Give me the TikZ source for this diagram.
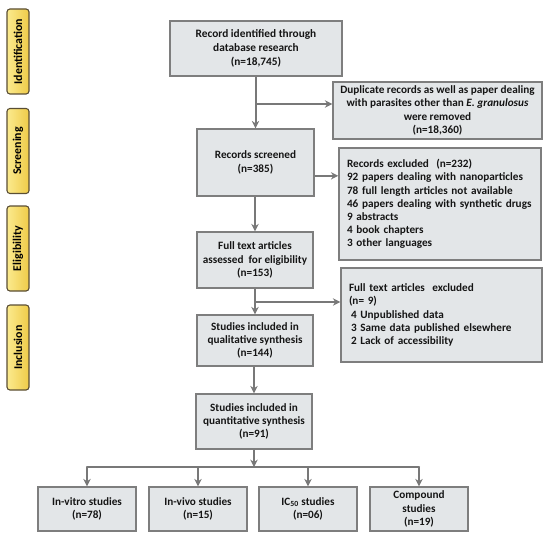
\documentclass[tikz,border=0pt]{standalone}
\usepackage{fontspec}
\setmainfont{Carlito}
\usetikzlibrary{arrows.meta,shadows}
\definecolor{boxfill}{HTML}{E3E6E8}
\definecolor{boxline}{HTML}{7E7E7E}
\definecolor{arrcol}{HTML}{787878}
\definecolor{tabA}{HTML}{FBEA8E}
\definecolor{tabB}{HTML}{EFCB48}
\definecolor{tabline}{HTML}{5A4E34}
\definecolor{txt}{HTML}{151515}
\tikzset{
  box/.style={draw=boxline, fill=boxfill, line width=1.1pt, inner sep=0pt,
    font=\fontsize{8.4}{9.9}\selectfont\bfseries, text=txt, align=center,
    drop shadow={shadow xshift=1.1pt, shadow yshift=-1.1pt, fill=black, opacity=0.18}},
  sz/.style 2 args={minimum width=0.75*#1 pt, minimum height=0.75*#2 pt},
  leftbox/.style 2 args={box, align=left, inner xsep=6pt, minimum width=0.75*#1 pt,
    minimum height=0.75*#2 pt, text width=0.75*#1 pt-12pt},
  tab/.style={draw=tabline, line width=0.8pt, rounded corners=2.2pt, shading=axis,
    left color=tabA, right color=tabB, inner sep=0pt,
    minimum width=0.75*85pt, minimum height=0.75*22pt, rotate=90,
    font=\fontsize{8.9}{11}\selectfont\bfseries, text=black},
  arr/.style={draw=arrcol, line width=1.5pt, -{Stealth[length=5.5pt,width=5.5pt]}},
  ln/.style={draw=arrcol, line width=1.5pt}
}
\begin{document}
\begin{tikzpicture}[x=0.75pt,y=-0.75pt]
\useasboundingbox (0,0) rectangle (550,542);
% phase tabs
\node[tab] (t1) at (18,51.5) {Identification};
\node[tab] (t2) at (18,151) {Screening};
\node[tab] (t3) at (18,248.5) {Eligibility};
\node[tab] (t4) at (18,347.5) {Inclusion};
% main column
\node[box, sz={172}{55}, font=\fontsize{8.5}{10.3}\selectfont\bfseries] (b1) at (256,48.5)
  {Record identified through\\database research\\(n=18,745)};
\node[box, sz={209}{57}] (dup) at (437.5,110.5)
  {Duplicate records as well as paper dealing\\with parasites other than \textit{E. granulosus}\\were removed\\(n=18,360)};
\node[box, sz={117}{67}] (b2) at (255.5,162.5) {Records screened\\(n=385)};
\node[leftbox={202}{112}] (exc1) at (440,204)
  {Records excluded\ \ (n=232)\\92 papers dealing with nanoparticles\\78 full length articles not available\\46 papers dealing with synthetic drugs\\9 abstracts\\4 book chapters\\3 other languages};
\node[box, sz={116}{56}] (b3) at (255,260) {Full text articles\\assessed\ \ for eligibility\\(n=153)};
\node[leftbox={201}{94}] (exc2) at (441.5,315)
  {Full text articles\ \ excluded\\(n=~9)\\\hspace*{1.5pt}4 Unpublished data\\\hspace*{1.5pt}3 Same data published elsewhere\\\hspace*{1.5pt}2 Lack of accessibility};
\node[box, sz={116}{51}] (b4) at (255,340.5) {Studies included in\\qualitative synthesis\\(n=144)};
\node[box, sz={116}{55}] (b5) at (254,421.5) {Studies included in\\quantitative synthesis\\(n=91)};
% bottom row
\node[box, sz={98}{44}] (v1) at (87,509) {In-vitro studies\\(n=78)};
\node[box, sz={98}{44}] (v2) at (198,509) {In-vivo studies\\(n=15)};
\node[box, sz={98}{44}] (v3) at (308,509) {IC\textsubscript{50} studies\\(n=06)};
\node[box, sz={98}{44}] (v4) at (419,509) {Compound\\studies\\(n=19)};
% connectors
\coordinate (j1) at (255,104);
\coordinate (j2) at (255,302);
\coordinate (j3) at (254,467);
\draw[arr] (b1.south -| b2.north) -- (b2.north);
\draw[arr] (j1) -- (j1 -| dup.west);
\draw[arr] ([yshift=-10pt]b2.east) -- ([yshift=-10pt]b2.east -| exc1.west);
\draw[arr] (b2.south -| b3.north) -- (b3.north);
\draw[arr] (j2) -- (j2 -| exc2.west);
\draw[arr] (b3.south -| b4.north) -- (b4.north);
\draw[arr] (b4.south -| b5.north) -- (b5.north);
\draw[arr] (b5.south) -- (j3);
\draw[ln, line cap=round] (j3 -| v1.north) -- (j3 -| v4.north);
\draw[arr] (j3 -| v1.north) -- (v1.north);
\draw[arr] (j3 -| v2.north) -- (v2.north);
\draw[arr] (j3 -| v3.north) -- (v3.north);
\draw[arr] (j3 -| v4.north) -- (v4.north);
\end{tikzpicture}
\end{document}
